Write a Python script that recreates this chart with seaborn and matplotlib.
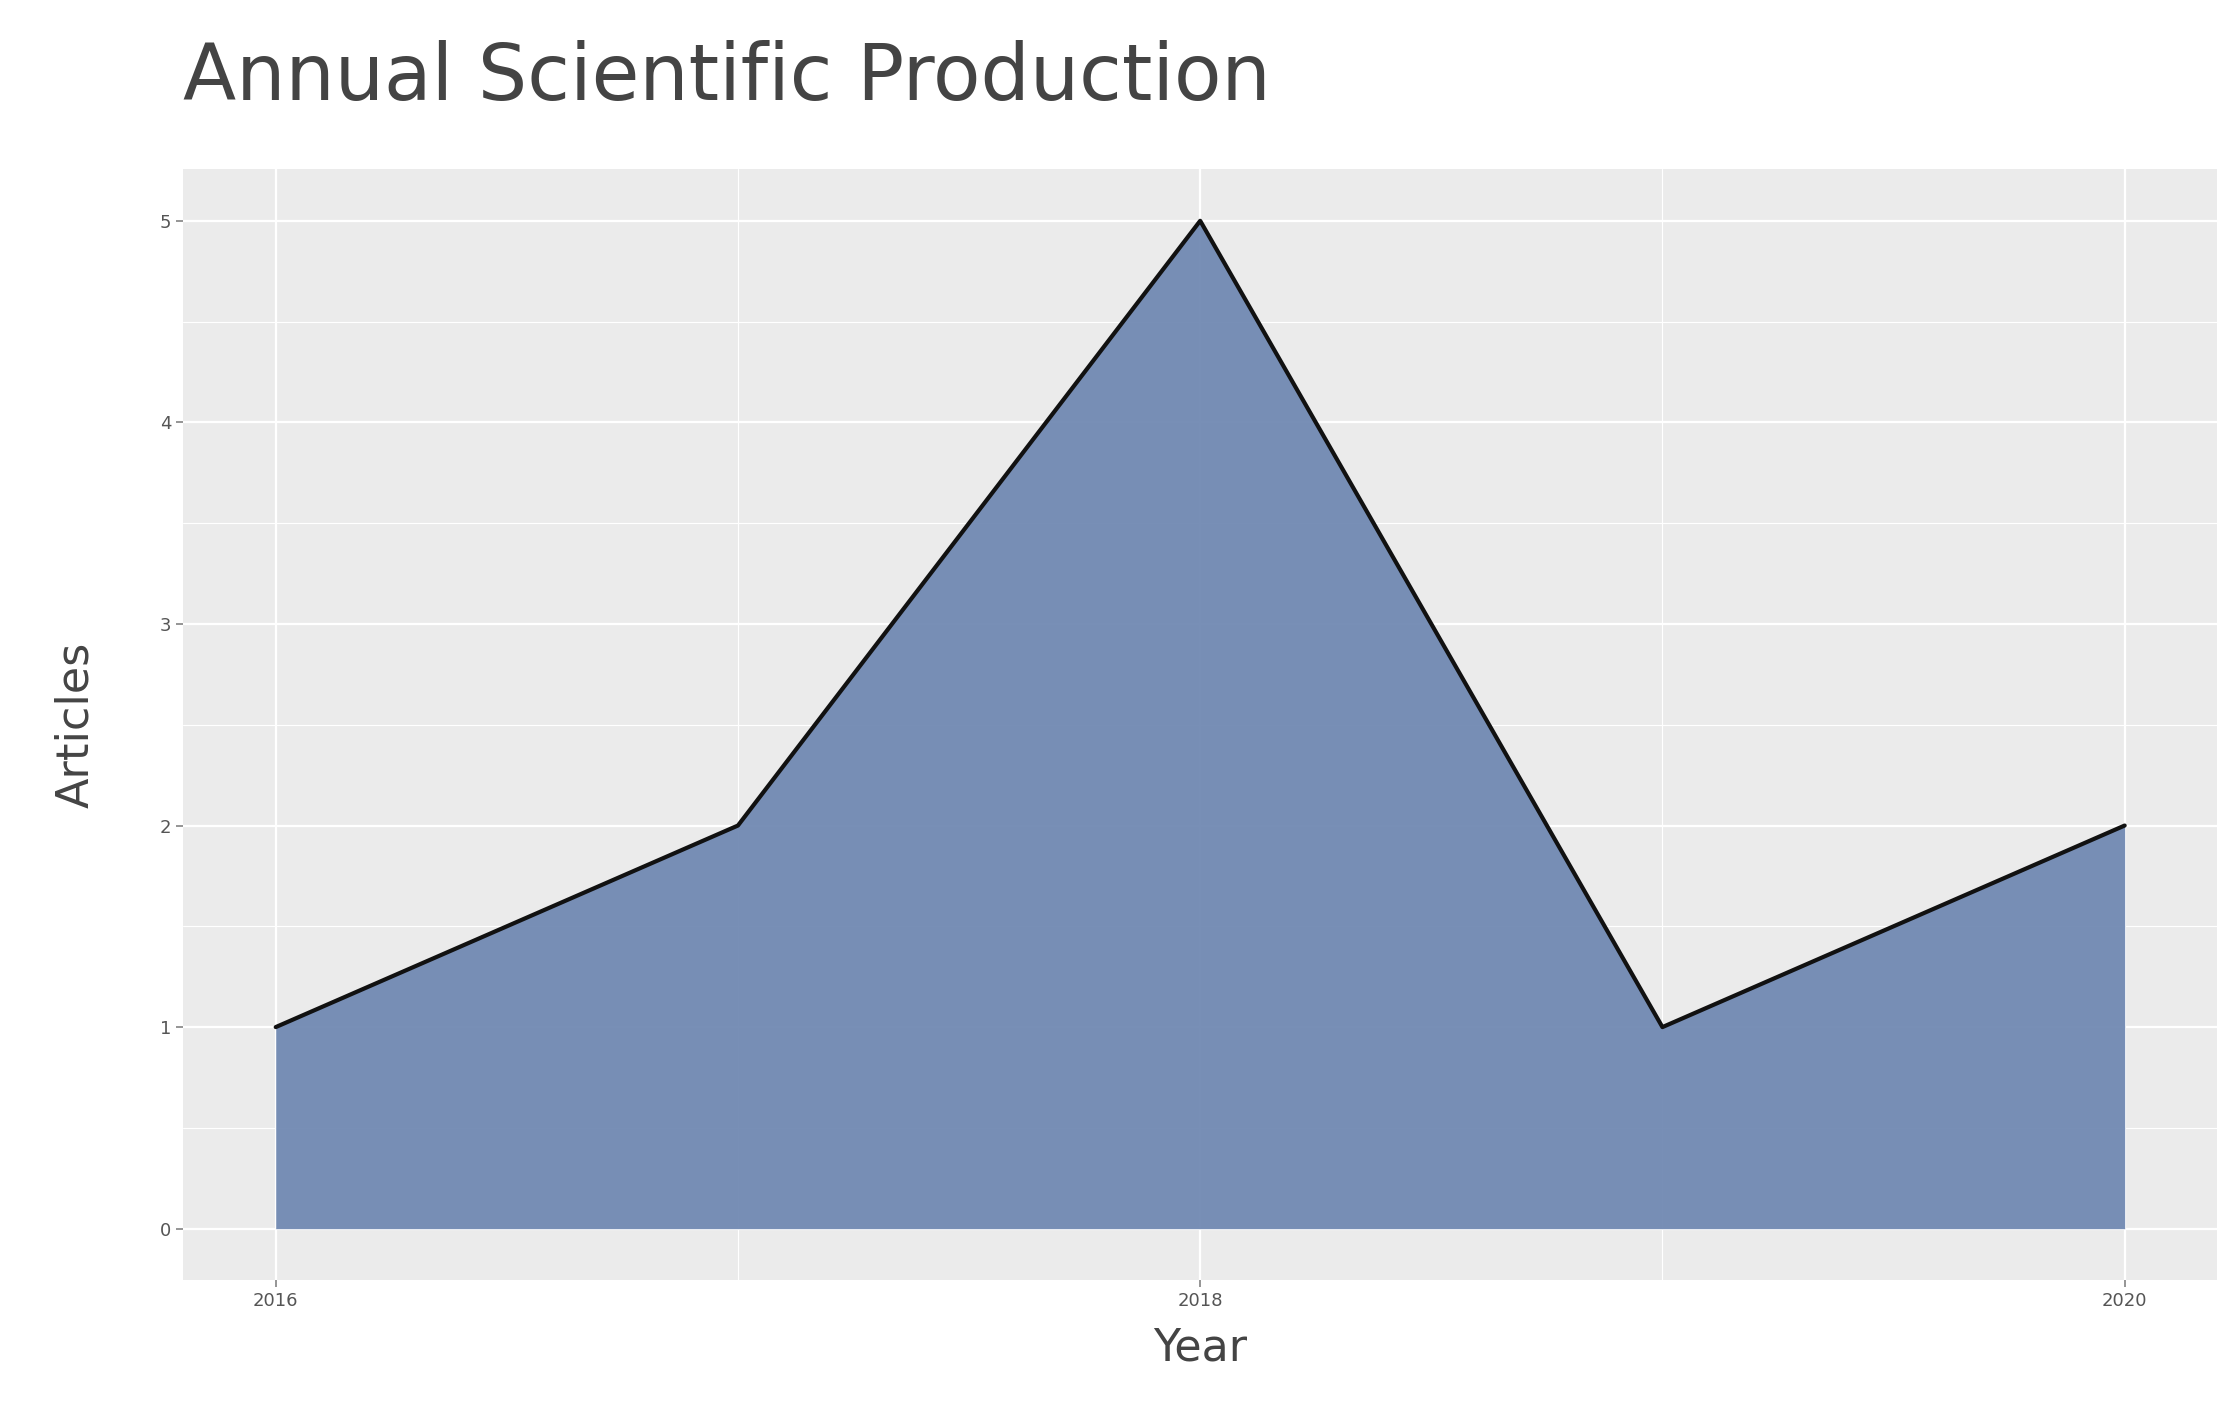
import matplotlib
matplotlib.use("Agg")
import matplotlib.pyplot as plt
import seaborn as sns
import pandas as pd

years = [2016, 2017, 2018, 2019, 2020]
articles = [1, 2, 5, 1, 2]
xticks = [2016, 2018, 2020]
yticks = [0, 1, 2, 3, 4, 5]

sns.set_theme(style="darkgrid")
plt.rcParams['font.family'] = ['DejaVu Sans']
df = pd.DataFrame({"Year": years, "Articles": articles})

fig = plt.figure(figsize=(22.35, 14.1), dpi=100)
ax = fig.add_axes([0.082, 0.092, 0.910, 0.788])
ax.set_facecolor("#EBEBEB")
ax.fill_between(df["Year"], 0, df["Articles"], color="#7189B2", alpha=0.95, linewidth=0, zorder=2)
sns.lineplot(data=df, x="Year", y="Articles", ax=ax, color="#111111", linewidth=3, zorder=3)

ax.set_xlim(2015.8, 2020.2)
ax.set_ylim(-0.256, 5.256)
ax.set_xticks(xticks)
ax.set_yticks(yticks)
ax.set_xticks([2017, 2019], minor=True)
ax.set_yticks([0.5, 1.5, 2.5, 3.5, 4.5], minor=True)
ax.grid(which="major", color="white", linewidth=1.6)
ax.grid(which="minor", color="white", linewidth=0.8)
ax.tick_params(axis="both", which="major", labelsize=13, labelcolor="#555555",
               length=5, color="#888888", bottom=True, left=True)
ax.tick_params(which="minor", length=0)
for s in ax.spines.values():
    s.set_visible(False)
ax.set_xlabel("Year", fontsize=32, color="#444444", labelpad=12)
ax.set_ylabel("Articles", fontsize=32, color="#444444", labelpad=45)
fig.text(0.082, 0.945, "Annual Scientific Production", fontsize=56, color="#444444", va="center")
fig.savefig("out.png", dpi=100)
